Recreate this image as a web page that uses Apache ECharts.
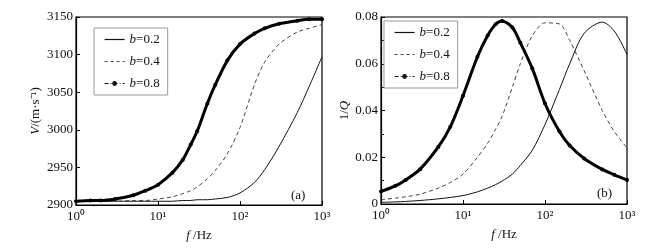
<!DOCTYPE html>
<html>
<head>
<meta charset="utf-8">
<script src="https://cdn.jsdelivr.net/npm/echarts@6/dist/echarts.min.js"></script>
<style>
  html, body { margin: 0; padding: 0; background: #fff; }
  #chart { width: 670px; height: 251px; }
</style>
</head>
<body>
<div id="chart"></div>
<script>
// frequencies (Hz) used for both panels
const freqs = [1, 1.5, 2, 3, 5, 7, 10, 15, 20, 25, 30, 40, 50, 70, 100, 150, 200, 300, 500, 700, 1000]

// (a) velocity, m/s
const velB02 = [2905, 2905, 2905, 2905, 2905, 2905, 2905, 2905, 2906, 2906, 2907, 2907, 2908, 2910, 2916, 2930, 2947, 2978, 3023, 3058, 3097]
const velB04 = [2905, 2905, 2905, 2905, 2906, 2906, 2908, 2911, 2915, 2919, 2924, 2935, 2946, 2968, 3003, 3060, 3090, 3114, 3130, 3135, 3140]
const velB08 = [2905, 2906, 2906, 2908, 2913, 2919, 2927, 2943, 2960, 2980, 2998, 3035, 3060, 3092, 3114, 3128, 3135, 3141, 3145, 3147, 3147]

// (b) attenuation 1/Q
const qB02 = [0.0007, 0.0009, 0.0011, 0.0015, 0.0022, 0.0028, 0.0036, 0.0052, 0.0068, 0.0083, 0.0098, 0.0128, 0.0165, 0.023, 0.034, 0.049, 0.060, 0.073, 0.0778, 0.074, 0.064]
const qB04 = [0.0018, 0.0025, 0.0031, 0.0042, 0.0068, 0.0092, 0.0128, 0.020, 0.026, 0.032, 0.0375, 0.050, 0.060, 0.072, 0.0775, 0.077, 0.070, 0.057, 0.040, 0.031, 0.024]
const qB08 = [0.0054, 0.0078, 0.0103, 0.0149, 0.0244, 0.033, 0.0463, 0.063, 0.0721, 0.0769, 0.0783, 0.0755, 0.069, 0.058, 0.043, 0.031, 0.025, 0.0195, 0.0148, 0.0125, 0.0103]

const seriesNames = ['b=0.2', 'b=0.4', 'b=0.8']
const xTickLabels = { 1: '10⁰', 10: '10¹', 100: '10²', 1000: '10³' }

const serif = 'Liberation Serif'
const pair = arr => freqs.map((f, i) => [f, arr[i]])
const italic = { fontStyle: 'italic', fontFamily: serif, fontSize: 13 }

const chart = echarts.init(document.getElementById('chart'))

const legendCommon = {
  orient: 'vertical',
  backgroundColor: '#fff',
  borderColor: '#999',
  borderWidth: 1,
  padding: [5, 8, 5, 10],
  itemWidth: 20,
  itemHeight: 6,
  itemGap: 9,
  formatter: name => '{i|b}' + name.slice(1),
  textStyle: {
    fontFamily: serif,
    fontSize: 13,
    color: '#111',
    rich: { i: italic }
  },
  data: [
    { name: 'b=0.2', itemStyle: { opacity: 0 }, lineStyle: { width: 1.2, color: '#111' } },
    { name: 'b=0.4', itemStyle: { opacity: 0 }, lineStyle: { width: 1.2, color: '#444', type: [3, 3] } },
    { name: 'b=0.8', itemStyle: { color: '#111' }, lineStyle: { width: 1.2, color: '#111', type: [4, 2, 1, 2] } }
  ]
}

const xAxisCommon = {
  type: 'log',
  logBase: 10,
  min: 1,
  max: 1000,
  name: '{i|f} /Hz',
  nameLocation: 'middle',
  nameGap: 24,
  nameTextStyle: { fontFamily: serif, fontSize: 13, color: '#111', rich: { i: italic } },
  axisLine: { lineStyle: { color: '#000', width: 1.2 } },
  axisTick: { inside: true, length: 4, lineStyle: { color: '#000' } },
  splitLine: { show: false },
  axisLabel: {
    fontFamily: serif, fontSize: 13, color: '#111', margin: 5,
    formatter: v => xTickLabels[Math.round(v)] || ''
  }
}

const yCommon = {
  nameLocation: 'middle',
  nameRotate: 90,
  nameTextStyle: { fontFamily: serif, fontSize: 13, color: '#111', rich: { i: italic } },
  axisLine: { show: true, lineStyle: { color: '#000', width: 1.2 } },
  axisTick: { show: true, inside: true, length: 4, lineStyle: { color: '#000' } },
  splitLine: { show: false },
  axisLabel: { fontFamily: serif, fontSize: 13, color: '#111', margin: 3 }
}

const lineCommon = { type: 'line', smooth: 0.3 }

const option = {
  animation: false,
  grid: [
    { left: 76, top: 17, width: 246, height: 188, show: true, borderColor: '#000', borderWidth: 1.2 },
    { left: 381, top: 17, width: 246, height: 187, show: true, borderColor: '#000', borderWidth: 1.2 }
  ],
  legend: [
    Object.assign({ left: 94, top: 28 }, legendCommon),
    Object.assign({ left: 384, top: 21 }, legendCommon)
  ],
  xAxis: [
    Object.assign({ gridIndex: 0 }, xAxisCommon),
    Object.assign({ gridIndex: 1 }, xAxisCommon)
  ],
  yAxis: [
    Object.assign({}, yCommon, {
      gridIndex: 0, min: 2900, max: 3150, interval: 50,
      name: '{i|V}/(m·s⁻¹)', nameGap: 34,
      axisLabel: Object.assign({}, yCommon.axisLabel, { formatter: v => String(v) })
    }),
    Object.assign({}, yCommon, {
      gridIndex: 1, min: 0, max: 0.08, interval: 0.02,
      name: '1/{i|Q}', nameGap: 12,
      minorTick: { show: true, splitNumber: 2, length: 3, lineStyle: { color: '#000' } },
      axisLabel: Object.assign({}, yCommon.axisLabel, {
        formatter: v => (v === 0 ? '0' : v.toFixed(2))
      })
    })
  ],
  graphic: [
    { type: 'text', left: 291, top: 189, style: { text: '(a)', font: '13px "Liberation Serif"', fill: '#111' } },
    { type: 'text', left: 597, top: 187, style: { text: '(b)', font: '13px "Liberation Serif"', fill: '#111' } }
  ],
  series: [
    Object.assign({}, lineCommon, { name: seriesNames[0], xAxisIndex: 0, yAxisIndex: 0, symbol: 'none',
      lineStyle: { color: '#111', width: 1 }, itemStyle: { color: '#111' }, data: pair(velB02) }),
    Object.assign({}, lineCommon, { name: seriesNames[1], xAxisIndex: 0, yAxisIndex: 0, symbol: 'none',
      lineStyle: { color: '#444', width: 1, type: [4, 3] }, itemStyle: { color: '#444' }, data: pair(velB04) }),
    Object.assign({}, lineCommon, { name: seriesNames[2], xAxisIndex: 0, yAxisIndex: 0, symbol: 'circle', symbolSize: 4,
      lineStyle: { color: '#000', width: 3 }, itemStyle: { color: '#000' }, data: pair(velB08) }),
    Object.assign({}, lineCommon, { name: seriesNames[0], xAxisIndex: 1, yAxisIndex: 1, symbol: 'none',
      lineStyle: { color: '#111', width: 1 }, itemStyle: { color: '#111' }, data: pair(qB02) }),
    Object.assign({}, lineCommon, { name: seriesNames[1], xAxisIndex: 1, yAxisIndex: 1, symbol: 'none',
      lineStyle: { color: '#444', width: 1, type: [4, 3] }, itemStyle: { color: '#444' }, data: pair(qB04) }),
    Object.assign({}, lineCommon, { name: seriesNames[2], xAxisIndex: 1, yAxisIndex: 1, symbol: 'circle', symbolSize: 4,
      lineStyle: { color: '#000', width: 3 }, itemStyle: { color: '#000' }, data: pair(qB08) })
  ]
}

chart.setOption(option)
</script>
</body>
</html>
